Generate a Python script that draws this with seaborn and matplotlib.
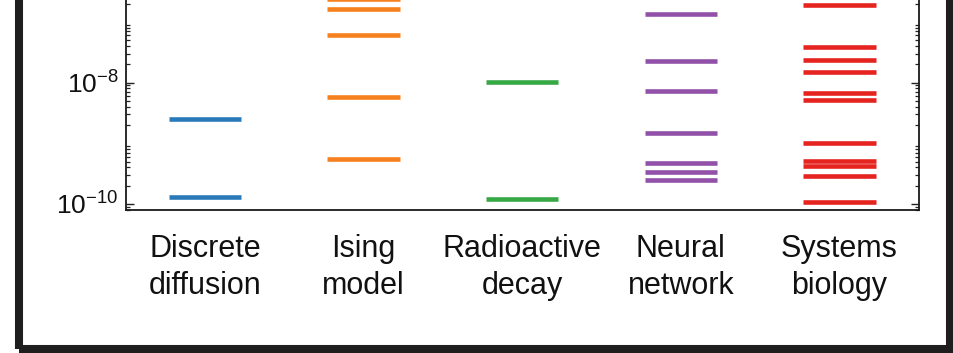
import numpy as np
import pandas as pd
import matplotlib
matplotlib.use("Agg")
import matplotlib.pyplot as plt
from matplotlib.patches import Rectangle
import seaborn as sns

# Systems and the log10 of their sloppy-model eigenvalues
categories = ["Discrete\ndiffusion", "Ising\nmodel", "Radioactive\ndecay",
              "Neural\nnetwork", "Systems\nbiology"]
diffusion_log = [-8.595, -9.885]
ising_log = [-6.62, -6.792, -7.216, -8.242, -9.264]
decay_log = [-7.985, -9.918]
neural_log = [-6.870, -7.639, -8.138, -8.830, -9.330, -9.478, -9.600]
biology_log = [-6.722, -7.414, -7.623, -7.825, -8.166, -8.282, -9.000,
               -9.288, -9.379, -9.534, -9.962]
colors = ["#2a7ab9", "#f7801e", "#36a844", "#9151a8", "#e5231f"]
ytick_exponents = [-8, -10]

series = [diffusion_log, ising_log, decay_log, neural_log, biology_log]
df = pd.DataFrame({
    "system": np.concatenate([[c] * len(v) for c, v in zip(categories, series)]),
    "eigenvalue": np.concatenate([10.0 ** np.array(v) for v in series]),
})

sns.set_theme(style="white")
plt.rcParams["font.family"] = ["Liberation Sans", "DejaVu Sans"]
plt.rcParams["mathtext.fontset"] = "custom"
plt.rcParams["mathtext.rm"] = "Liberation Sans"
plt.rcParams["mathtext.it"] = "Liberation Sans:italic"
plt.rcParams["mathtext.bf"] = "Liberation Sans:bold"

W, H = 954, 353
fig = plt.figure(figsize=(W / 100, H / 100), dpi=100)
fig.patch.set_facecolor("white")

# axes frame: left spine x=126, right x=918, bottom y=210 (px from top); top runs off the sheet
ymin_log, ymax_log = -10.099, -6.0
px_per_decade = 60.7
ax_h = (ymax_log - ymin_log) * px_per_decade
ax = fig.add_axes([125.7 / W, (H - 210) / H, (918.7 - 125.7) / W, ax_h / H])
ax.set_yscale("log")

sns.stripplot(data=df, x="system", y="eigenvalue", hue="system", order=categories,
              hue_order=categories, palette=colors, jitter=False, marker="_",
              size=52, linewidth=3.3, legend=False, ax=ax, native_scale=False)

ax.set_xlim(-0.5, 4.5)
ax.set_ylim(10 ** ymin_log, 10 ** ymax_log)
ax.set_xlabel("")
ax.set_ylabel("")

ax.set_yticks([10.0 ** e for e in ytick_exponents])
ax.set_yticklabels([r"$10^{%d}$" % e for e in ytick_exponents], fontsize=19)
ax.yaxis.set_minor_locator(matplotlib.ticker.LogLocator(base=10, subs=np.arange(2, 10), numticks=50))
ax.yaxis.set_minor_formatter(matplotlib.ticker.NullFormatter())
ax.tick_params(axis="y", which="major", direction="in", length=6, width=1.0,
               color="#222222", left=True, right=True, pad=5, labelcolor="#111111")
ax.tick_params(axis="y", which="minor", direction="in", length=3.2, width=0.9,
               color="#222222", left=True, right=True)
ax.tick_params(axis="x", length=0, pad=17, labelsize=22, labelcolor="#111111")
for lbl in ax.get_xticklabels():
    lbl.set_linespacing(1.3)

for side in ["left", "right", "bottom", "top"]:
    ax.spines[side].set_visible(True)
    ax.spines[side].set_color("#1a1a1a")
    ax.spines[side].set_linewidth(1.3)

# heavy panel frame around the figure
frame = Rectangle((19 / W, 4 / H), (950 - 19) / W, 3.0, transform=fig.transFigure,
                  fill=False, edgecolor="#1e1e1e", linewidth=5.8, clip_on=False)
fig.patches.append(frame)

fig.savefig("out.png", dpi=100, facecolor="white")
